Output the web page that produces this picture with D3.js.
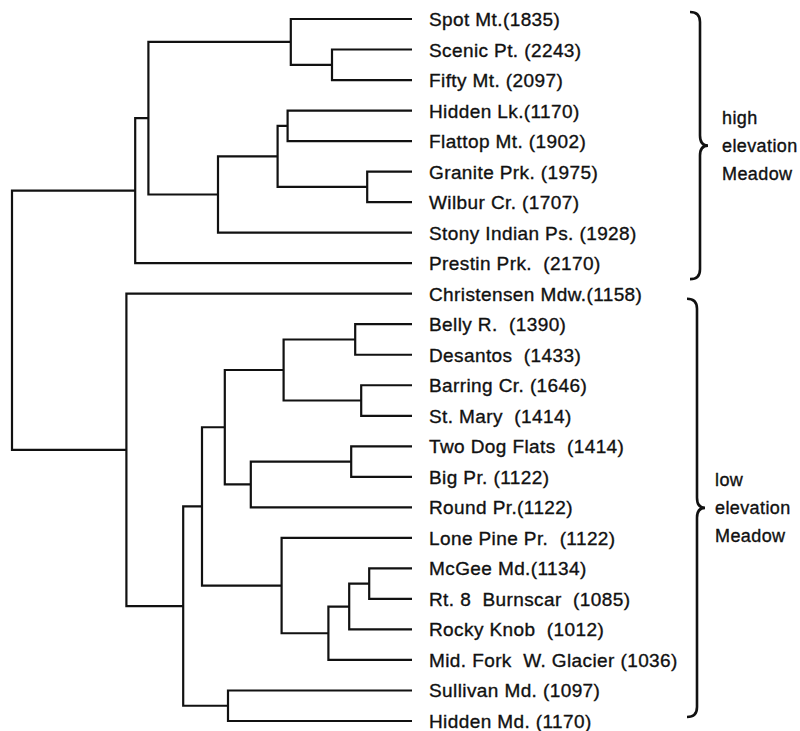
<!DOCTYPE html>
<html>
<head>
<meta charset="utf-8">
<script src="https://cdn.jsdelivr.net/npm/d3@7"></script>
<style>
  html, body { margin: 0; padding: 0; background: #fff; }
  svg { display: block; }
  text {
    font-family: "Liberation Sans", Arial, Helvetica, sans-serif;
    fill: #111; stroke: #111; stroke-width: 0.35px;
  }
</style>
</head>
<body>
<svg id="chart" width="800" height="731"></svg>
<script>
// Meadow sites in dendrogram order (name as printed) and elevation in metres
const siteNames = [
  "Spot Mt.", "Scenic Pt. ", "Fifty Mt. ", "Hidden Lk.", "Flattop Mt. ",
  "Granite Prk. ", "Wilbur Cr. ", "Stony Indian Ps. ", "Prestin Prk.  ",
  "Christensen Mdw.", "Belly R.  ", "Desantos  ", "Barring Cr. ", "St. Mary  ",
  "Two Dog Flats  ", "Big Pr. ", "Round Pr.", "Lone Pine Pr.  ", "McGee Md.",
  "Rt. 8  Burnscar  ", "Rocky Knob  ", "Mid. Fork  W. Glacier ", "Sullivan Md. ", "Hidden Md. "
];
const elevations = [
  1835, 2243, 2097, 1170, 1902, 1975, 1707, 1928, 2170,
  1158, 1390, 1433, 1646, 1414, 1414, 1122, 1122, 1122, 1134,
  1085, 1012, 1036, 1097, 1170
];

// Agglomeration steps: [upper child, lower child, linkage level (0-100)].
// Indices 0-23 are sites; index 24 + k is the cluster formed at step k.
const merges = [
  [1, 2, 20.0],    // 24
  [0, 24, 30.3],   // 25
  [3, 4, 31.1],    // 26
  [5, 6, 11.2],    // 27
  [26, 27, 33.6],  // 28
  [28, 7, 48.5],   // 29
  [25, 29, 65.9],  // 30
  [30, 8, 69.2],   // 31
  [10, 11, 14.2],  // 32
  [12, 13, 12.7],  // 33
  [32, 33, 32.1],  // 34
  [14, 15, 15.2],  // 35
  [35, 16, 40.3],  // 36
  [34, 36, 46.8],  // 37
  [18, 19, 10.7],  // 38
  [38, 20, 15.7],  // 39
  [39, 21, 20.9],  // 40
  [17, 40, 32.6],  // 41
  [37, 41, 52.5],  // 42
  [22, 23, 46.0],  // 43
  [42, 43, 57.2],  // 44
  [9, 44, 71.4],   // 45
  [31, 45, 100.0]  // 46
];

// Bracketed site groups
const groupLabels = [["high", "elevation", "Meadow"], ["low", "elevation", "Meadow"]];
const groupFirst = [0, 9];
const groupLast = [8, 23];

// ---- build the tree ----
const nodes = siteNames.map((name, i) => ({
  idx: i,
  label: name + "(" + elevations[i] + ")",
  level: 0
}));
merges.forEach(([a, b, level]) => nodes.push({ children: [nodes[a], nodes[b]], level }));
const root = d3.hierarchy(nodes[nodes.length - 1]);

// ---- scales ----
const x = d3.scaleLinear().domain([0, 100]).range([412, 12]);
const y = d3.scalePoint().domain(d3.range(siteNames.length)).range([19, 721]);

root.eachAfter(d => {
  d.px = x(d.data.level);
  d.py = d.children ? d3.mean(d.children, c => c.py) : y(d.data.idx);
});

const svg = d3.select("#chart");

// ---- dendrogram links: one elbow path per cluster ----
svg.append("g")
  .attr("fill", "none")
  .attr("stroke", "#111")
  .attr("stroke-width", 2.2)
  .attr("stroke-linejoin", "miter")
  .attr("stroke-linecap", "butt")
  .selectAll("path")
  .data(root.descendants().filter(d => d.children))
  .join("path")
  .attr("d", d => {
    const [a, b] = d.children;
    return `M${a.px},${a.py}H${d.px}V${b.py}H${b.px}`;
  });

// ---- site labels ----
svg.append("g")
  .selectAll("text")
  .data(root.leaves())
  .join("text")
  .attr("x", 429)
  .attr("y", d => d.py + 7)
  .style("white-space", "pre")
  .style("font-size", "19px")
  .style("letter-spacing", "0.4px")
  .text(d => d.data.label);

// ---- group braces ----
const braceExt = [[-7, 16], [5, -4]];
const braceX = [700, 697];
function bracePath(x0, y0, y1) {
  const ym = (y0 + y1) / 2, h = 10, r = 10, w = 8;
  return `M${x0 - h},${y0}Q${x0},${y0} ${x0},${y0 + r}` +
         `V${ym - r}Q${x0},${ym} ${x0 + w},${ym}` +
         `Q${x0},${ym} ${x0},${ym + r}` +
         `V${y1 - r}Q${x0},${y1} ${x0 - h},${y1}`;
}
const groups = groupLabels.map((lines, g) => {
  const y0 = y(groupFirst[g]) + braceExt[g][0];
  const y1 = y(groupLast[g]) + braceExt[g][1];
  return { lines, y0, y1, x0: braceX[g] };
});

svg.append("g")
  .attr("fill", "none")
  .attr("stroke", "#111")
  .attr("stroke-width", 2.6)
  .selectAll("path")
  .data(groups)
  .join("path")
  .attr("d", g => bracePath(g.x0, g.y0, g.y1));

const gl = svg.append("g").selectAll("text")
  .data(groups)
  .join("text")
  .attr("x", (g, i) => i === 0 ? 722 : 715)
  .attr("y", g => (g.y0 + g.y1) / 2 - 28 + 6)
  .style("font-size", "18px")
  .style("letter-spacing", "0.4px");
gl.selectAll("tspan")
  .data(g => g.lines)
  .join("tspan")
  .attr("x", function () { return this.parentNode.getAttribute("x"); })
  .attr("dy", (t, i) => i === 0 ? 0 : 28)
  .text(t => t);
</script>
</body>
</html>
